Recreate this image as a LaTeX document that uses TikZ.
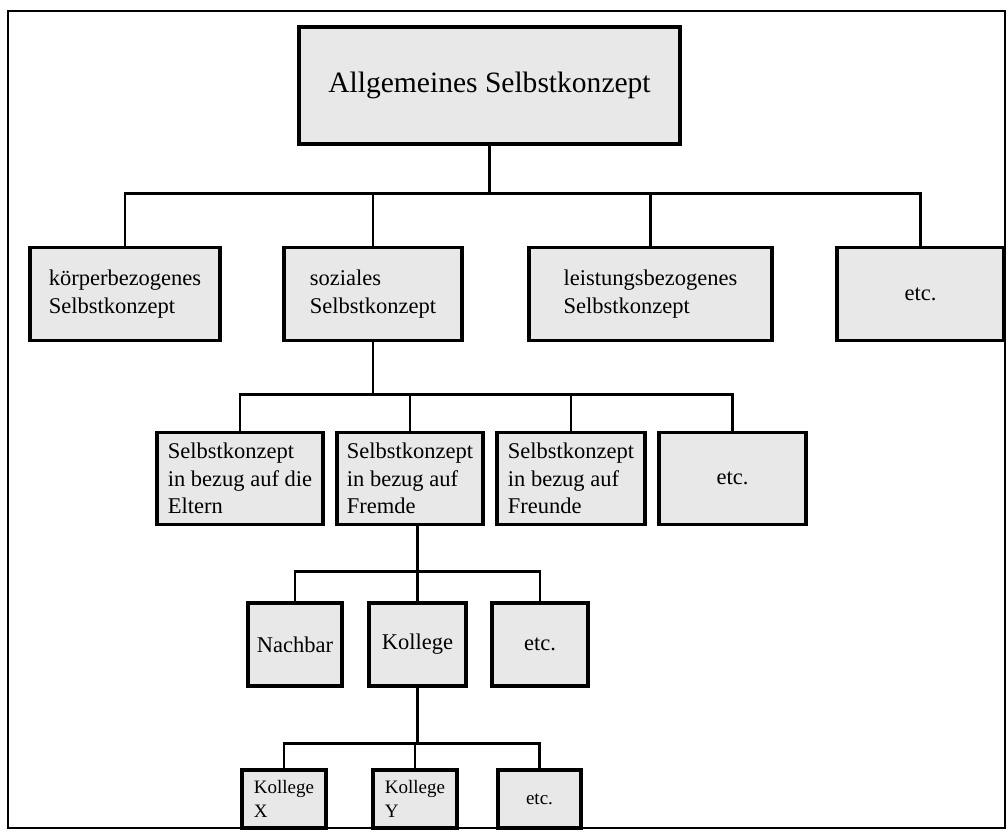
\documentclass[tikz,border=0pt]{standalone}
\usepackage{fontspec}
\setmainfont{Liberation Serif}
\tikzset{kasten/.style 2 args={draw,line width=2.6pt,fill=black!9,
                       align=left,inner sep=2pt,
                       minimum width=#1*0.025cm,minimum height=#2*0.025cm}}
\tikzset{linie/.style={line width=2pt}}
\tikzset{gross/.style={font=\fontsize{21}{25}\selectfont}}
\tikzset{normal/.style={font=\fontsize{16}{19.5}\selectfont}}
\tikzset{klein/.style={font=\fontsize{13.5}{16.5}\selectfont}}

\begin{document}
\begin{tikzpicture}[x=0.025cm,y=-0.025cm]
    \useasboundingbox (0,0) rectangle (1008,837);
    % Frame round everything
    \draw[line width=1.2pt] (8,11) rectangle (1005,828);
    % Top node
    \node[kasten={381}{117},gross] (top) at (489.5,85.5) {Allgemeines Selbstkonzept};
    % Second row
    \foreach \x/\w/\t [count=\i] in {125/190/{körperbezogenes\\Selbstkonzept},
                                      373/178/{soziales\\Selbstkonzept},
                                      650.5/243/{leistungsbezogenes\\Selbstkonzept},
                                      920.5/167/{etc.}}{%
          \node[kasten={\w}{93},normal] (k\i) at (\x,294) {\t};
        }
    % Third row
    \foreach \x/\w/\t [count=\i] in {240/166/{Selbstkonzept\\in bezug auf die\\Eltern},
                                      410/146/{Selbstkonzept\\in bezug auf\\Fremde},
                                      571/148/{Selbstkonzept\\in bezug auf\\Freunde},
                                      732.5/147/{etc.}}{%
          \node[kasten={\w}{92},normal] (s\i) at (\x,478.5) {\t};
        }
    % Fourth row
    \foreach \x/\w/\t [count=\i] in {295/94/Nachbar,417.5/97/Kollege,540/96/etc.}{%
          \node[kasten={\w}{83},normal] (f\i) at (\x,644.5) {\t};
        }
    % Fifth row
    \foreach \x/\w/\t [count=\i] in {284/84/{Kollege\\X},415/84/{Kollege\\Y},539.5/83/{etc.}}{%
          \node[kasten={\w}{58},klein] (c\i) at (\x,799) {\t};
        }
    % Connect top node to second row
    \draw[linie] (top.south) -- ++(0,48) coordinate (bus1);
    \foreach \i in {1,...,4} \draw[linie] (bus1) -| (k\i.north);
    % Connect soziales to third row
    \draw[linie] (k2.south) -- ++(0,52.5) coordinate (bus2);
    \foreach \i in {1,...,4} \draw[linie] (bus2) -| (s\i.north);
    % Connect Fremde to fourth row
    \draw[linie] (s2.south -| f2.north) -- ++(0,45.5) coordinate (bus3);
    \foreach \i in {1,...,3} \draw[linie] (bus3) -| (f\i.north);
    % Connect Kollege to fifth row
    \draw[linie] (f2.south) -- ++(0,56) coordinate (bus4);
    \foreach \i in {1,...,3} \draw[linie] (bus4) -| (c\i.north);
\end{tikzpicture}
\end{document}
